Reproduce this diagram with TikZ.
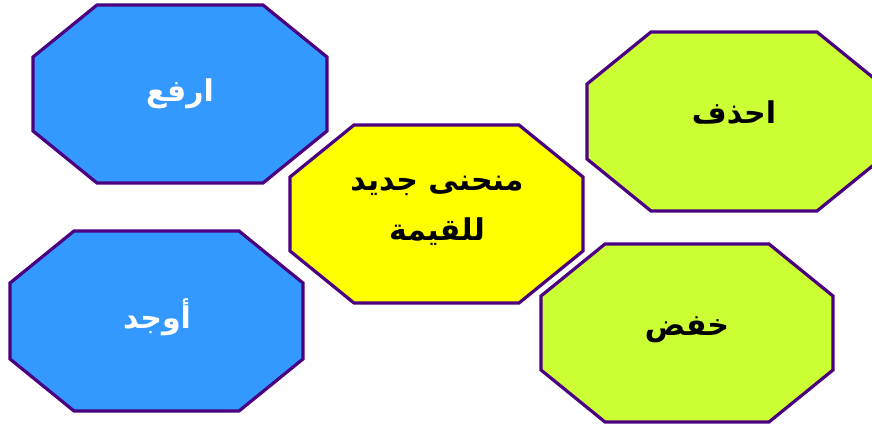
\documentclass[tikz,border=0pt]{standalone}
\usepackage{fontspec}
\newfontfamily\arabicfont[Script=Arabic]{DejaVu Sans}
\TeXXeTstate=1

\definecolor{octblue}{RGB}{51,153,255}
\definecolor{octyellow}{RGB}{255,255,0}
\definecolor{octlime}{RGB}{204,255,51}
\definecolor{octedge}{RGB}{75,0,130}

% octagon from its bounding box: #2,#3 top left, #4,#5 bottom right
\newcommand{\drawoct}[5][]{%
  \draw[octframe,#1] ({#2+64},#3) -- ({#4-64},#3) -- (#4,{#3+52}) -- (#4,{#5-52})
    -- ({#4-64},#5) -- ({#2+64},#5) -- (#2,{#5-52}) -- (#2,{#3+52}) -- cycle;}

\tikzset{
  octframe/.style={draw=octedge, line width=3.2pt, line join=miter},
  word/.style={font=\arabicfont\bfseries\fontsize{30}{50}\selectfont, align=center, inner sep=0pt},
  lightword/.style={word, text=white},
  darkword/.style={word, text=black},
}

\begin{document}
\begin{tikzpicture}[x=1pt, y=-1pt]
    \useasboundingbox (0,0) rectangle (872,427);

    % blue ones on the left
    \drawoct[fill=octblue]{33}{5}{327}{183}
    \drawoct[fill=octblue]{10}{231}{303}{411}
    % yellow one in the middle
    \drawoct[fill=octyellow]{290}{125}{583}{303}
    % lime ones on the right
    \drawoct[fill=octlime]{587}{32}{881}{211}
    \drawoct[fill=octlime]{541}{244}{833}{422}

    % texts
    \node[lightword] (raise) at (180,94) {\beginR ارفع\endR};
    \node[lightword] (find) at (157,317) {\beginR أوجد\endR};
    \node[darkword] (curve) at (437,211) {\beginR منحنى جديد\endR\\\beginR للقيمة\endR};
    \node[darkword] (delete) at (734,113) {\beginR احذف\endR};
    \node[darkword] (reduce) at (687,330) {\beginR خفض\endR};
\end{tikzpicture}
\end{document}
